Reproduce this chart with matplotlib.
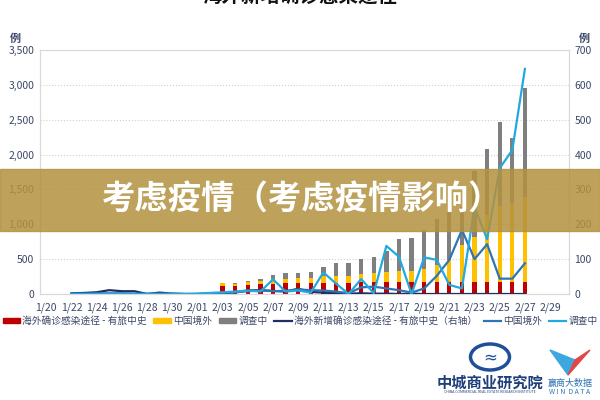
import matplotlib.pyplot as plt
import numpy as np
from matplotlib.patches import Patch, Circle, Polygon
from matplotlib.lines import Line2D

plt.rcParams['font.family'] = ['Noto Sans CJK SC', 'DejaVu Sans']

# categories 1/20 .. 3/1 (2020)
dates = ['1/20', '1/21', '1/22', '1/23', '1/24', '1/25', '1/26', '1/27', '1/28', '1/29',
         '1/30', '1/31', '2/01', '2/02', '2/03', '2/04', '2/05', '2/06', '2/07', '2/08',
         '2/09', '2/10', '2/11', '2/12', '2/13', '2/14', '2/15', '2/16', '2/17', '2/18',
         '2/19', '2/20', '2/21', '2/22', '2/23', '2/24', '2/25', '2/26', '2/27', '2/28',
         '2/29', '3/01']

# stacked bars, 2/03 .. 2/27 (left axis)
bar_start = '2/03'
red_vals = [119, 120, 129, 139, 150, 153, 153, 155, 160, 163, 163, 165, 165, 167, 167,
            167, 168, 168, 170, 170, 170, 170, 170, 172, 172]
yellow_vals = [34, 30, 38, 47, 60, 62, 72, 79, 98, 95, 100, 122, 131, 144, 168,
               168, 195, 248, 318, 532, 643, 960, 1090, 1128, 1213]
gray_vals = [10, 10, 24, 29, 62, 81, 81, 81, 134, 182, 186, 220, 230, 309, 458,
             468, 555, 655, 692, 548, 955, 949, 1206, 937, 1577]

# lines, 1/22 .. 2/27 (right axis)
line_start = '1/22'
navy_vals = [2, 3, 5, 11, 8, 8, 0, 4, 1, 0, 0, 1, 2, 5, 10, 11, 9, 7, 15, 6, 4, 2, 1,
             2, 1, 1, 0, 1, 0, 0, 0, 0, 0, 0, 0, 0, 0]
mid_vals = [1, 1, 2, 2, 2, 1, 1, 1, 1, 0, 0, 1, 3, 5, 8, 10, 8, 9, 13, 11, 10, 7, 2,
            19, 21, 16, 11, 4, 16, 52, 98, 184, 100, 143, 44, 44, 88]
light_vals = [0, 0, 0, 0, 0, 0, 0, 0, 0, 0, 1, 3, 5, 7, 10, 7, 42, 7, 10, 4, 62, 30, 0,
              43, 2, 138, 107, 0, 105, 98, 26, 16, 250, 157, 361, 413, 646]

labels = ['海外确诊感染途径 - 有旅中史', '中国境外', '调查中',
          '海外新增确诊感染途径 - 有旅中史（右轴）', '中国境外', '调查中']
c_red, c_yel, c_gray = '#C00000', '#FFC000', '#7F7F7F'
c_navy, c_mid, c_light = '#1F2F63', '#2E75B6', '#22A9E0'
txt = '#3A4766'

fig = plt.figure(figsize=(6, 4), dpi=100)
ax = fig.add_axes([40 / 600, 1 - 294 / 400, 529 / 600, 244 / 400])
ax2 = ax.twinx()

xb = np.arange(len(red_vals)) + dates.index(bar_start)
red = np.array(red_vals)
yel = np.array(yellow_vals)
gry = np.array(gray_vals)
w = 0.34
ax.bar(xb, red, w, color=c_red, zorder=2)
ax.bar(xb, yel, w, bottom=red, color=c_yel, zorder=2)
ax.bar(xb, gry, w, bottom=red + yel, color=c_gray, zorder=2)

xl = np.arange(len(navy_vals)) + dates.index(line_start)
ax2.plot(xl, navy_vals, color=c_navy, lw=1.6, zorder=3)
ax2.plot(xl, mid_vals, color=c_mid, lw=1.6, zorder=3)
ax2.plot(xl, light_vals, color=c_light, lw=1.6, zorder=3)

ax.set_xlim(-0.5, len(dates) - 0.5)
ax.set_ylim(0, 3500)
ax.set_yticks(np.arange(0, 3501, 500))
ax.set_yticklabels([f'{v:,}' for v in range(0, 3501, 500)])
ax2.set_ylim(0, 700)
ax2.set_yticks(np.arange(0, 701, 100))
ax.set_xticks(np.arange(0, len(dates), 2))
ax.set_xticklabels(dates[::2])
ax.grid(axis='y', color='#D0D0D0', ls=':', lw=0.8, zorder=0)
ax.set_axisbelow(True)
for a in (ax, ax2):
    a.tick_params(length=0, labelsize=7.5, colors=txt, pad=4)
    for s in a.spines.values():
        s.set_color('#D9D9D9')
        s.set_linewidth(0.8)
ax.tick_params(axis='x', pad=6)

fig.text(15 / 600, 1 - 38 / 400, '例', fontsize=8, fontweight='bold', color=txt, ha='center', va='center')
fig.text(584 / 600, 1 - 38 / 400, '例', fontsize=8, fontweight='bold', color=txt, ha='center', va='center')

# title cut off at top edge
fig.text(0.5, 1 - 6 / 400, '海外新增确诊感染途径', fontsize=14, fontweight='bold', color='#111111',
         ha='center', va='bottom')

handles = [Patch(color=c_red), Patch(color=c_yel), Patch(color=c_gray),
           Line2D([], [], color=c_navy, lw=1.6), Line2D([], [], color=c_mid, lw=1.6),
           Line2D([], [], color=c_light, lw=1.6)]
fig.legend(handles, labels, loc='center', bbox_to_anchor=(0.5, 1 - 321 / 400), ncol=6,
           frameon=False, fontsize=7, handlelength=1.8, handleheight=0.5,
           columnspacing=0.7, handletextpad=0.2, labelcolor=txt)

# banner overlay
fig.patches.append(plt.Rectangle((0, 1 - 231 / 400), 1, 62 / 400, transform=fig.transFigure,
                                 color='#B3923F', alpha=0.85, zorder=10))
fig.text(0.503, 1 - 200 / 400, '考虑疫情（考虑疫情影响）', fontsize=24, fontweight='bold',
         color='white', ha='center', va='center', zorder=11)

# logos (approximate)
fig.patches.append(Circle((490 / 600, 1 - 357 / 400), 13 / 400, transform=fig.transFigure,
                          fill=False, ec='#1F4E9A', lw=2.5))
fig.text(490 / 600, 1 - 357 / 400, '≈', fontsize=12, color='#1F4E9A', ha='center', va='center',
         family=['DejaVu Sans'])
fig.text(490 / 600, 1 - 383 / 400, '中城商业研究院', fontsize=11, fontweight='bold',
         color='#1F3F7A', ha='center', va='center')
fig.text(490 / 600, 1 - 392 / 400, 'CHINA COMMERCIAL REAL ESTATE RESEARCH INSTITUTE', fontsize=2.5,
         color='#1F3F7A', ha='center', va='center')
fig.patches.append(Polygon([(550 / 600, 1 - 350 / 400), (568 / 600, 1 - 375 / 400),
                            (575 / 600, 1 - 360 / 400)], transform=fig.transFigure,
                           color='#3FA7E0'))
fig.patches.append(Polygon([(568 / 600, 1 - 375 / 400), (590 / 600, 1 - 350 / 400),
                            (575 / 600, 1 - 360 / 400)], transform=fig.transFigure,
                           color='#E04848'))
fig.text(570 / 600, 1 - 383 / 400, '赢商大数据', fontsize=6.5, color='#2E75B6',
         ha='center', va='center')
fig.text(570 / 600, 1 - 392 / 400, 'W I N  D A T A', fontsize=5, color='#2E75B6',
         ha='center', va='center')

fig.savefig('out.png', dpi=100)
